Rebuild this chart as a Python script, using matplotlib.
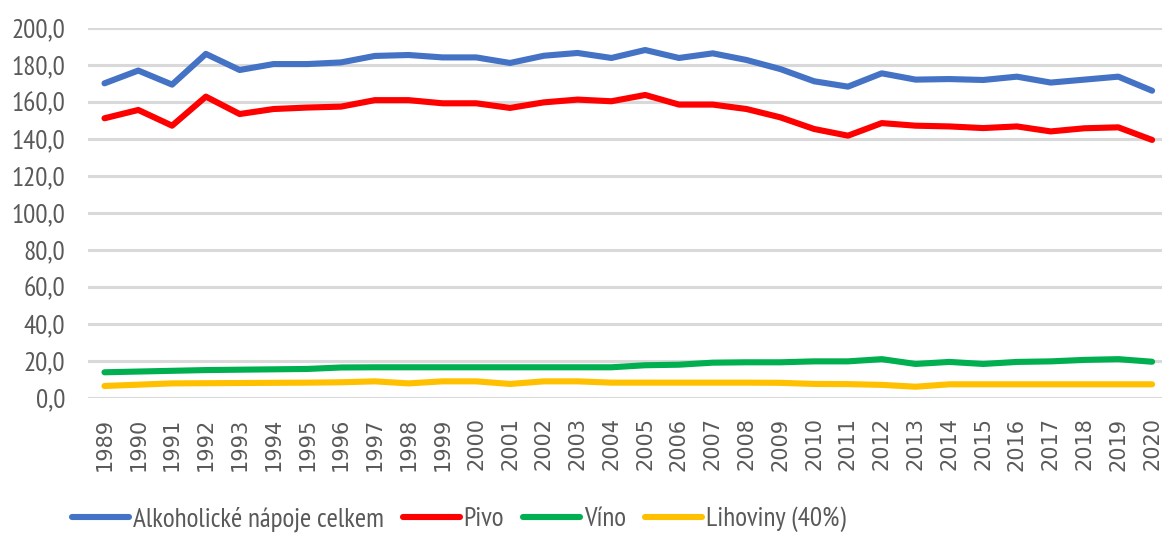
import matplotlib
matplotlib.use("Agg")
import matplotlib.pyplot as plt
from matplotlib import font_manager as fm
from matplotlib.ticker import FuncFormatter

years = [str(y) for y in range(1989, 2021)]

celkem = [170.1, 177.0, 169.4, 186.0, 177.3, 180.5, 180.5, 181.4, 184.9, 185.4,
          184.1, 184.1, 181.1, 185.0, 186.5, 183.8, 188.1, 183.8, 186.3, 182.7,
          177.8, 171.2, 168.3, 175.5, 172.1, 172.4, 171.9, 173.7, 170.5, 172.1,
          173.7, 166.1]
pivo = [151.2, 155.7, 147.2, 162.9, 153.5, 156.2, 157.0, 157.5, 161.0, 161.0,
        159.3, 159.3, 156.8, 159.8, 161.3, 160.4, 163.8, 158.6, 158.6, 156.2,
        151.7, 145.4, 141.8, 148.6, 147.2, 146.8, 145.9, 146.8, 144.1, 145.8,
        146.3, 139.5]
vino = [13.9, 14.3, 14.7, 15.1, 15.3, 15.5, 15.7, 16.5, 16.6, 16.6,
        16.6, 16.6, 16.6, 16.6, 16.6, 16.6, 17.7, 18.0, 19.1, 19.3,
        19.3, 19.8, 19.8, 21.0, 18.4, 19.5, 18.4, 19.5, 19.8, 20.6,
        21.0, 19.6]
lihoviny = [6.5, 7.2, 7.9, 8.0, 8.1, 8.2, 8.3, 8.5, 9.0, 7.9,
            9.0, 9.0, 7.6, 9.0, 9.0, 8.3, 8.3, 8.3, 8.3, 8.3,
            8.2, 7.6, 7.5, 7.1, 6.1, 7.4, 7.4, 7.4, 7.4, 7.4,
            7.4, 7.4]

series_names = ["Alkoholické nápoje celkem", "Pivo", "Víno", "Lihoviny (40%)"]
series_colors = ["#4472C4", "#FF0000", "#00B050", "#FFC000"]
y_ticks = [0, 20, 40, 60, 80, 100, 120, 140, 160, 180, 200]

# pick a narrow font if one is installed
installed = {f.name for f in fm.fontManager.ttflist}
narrow = None
stretch = "normal"
for cand in ["PT Sans Narrow", "Arial Narrow", "Liberation Sans Narrow", "Archivo Narrow",
             "Roboto Condensed", "Fira Sans Condensed", "IBM Plex Sans Condensed",
             "Open Sans Condensed", "Asap Condensed", "Barlow Semi Condensed"]:
    if cand in installed:
        narrow = cand
        break
if narrow is None:
    narrow = "Open Sans"
    stretch = "condensed"
NARROW = [narrow, "DejaVu Sans"]

W, H = 1162, 533
fig = plt.figure(figsize=(W / 100, H / 100), dpi=100)
left = 87.6 / W
right = 1169.0 / W
bottom = (H - 398) / H
top = (H - 28) / H
ax = fig.add_axes([left, bottom, right - left, top - bottom])

x = list(range(len(years)))
for vals, name, col in zip([celkem, pivo, vino, lihoviny], series_names, series_colors):
    ax.plot(x, vals, color=col, lw=4.4, label=name,
            solid_capstyle="round", solid_joinstyle="round", zorder=3)

ax.set_xlim(-0.5, len(years) - 0.5)
ax.set_ylim(0, 200)
ax.set_yticks(y_ticks)
ax.yaxis.set_major_formatter(FuncFormatter(lambda v, p: f"{v:.1f}".replace(".", ",")))
ax.set_xticks(x)
ax.set_xticklabels(years, rotation=90, fontsize=15, color="#595959",
                   family=["DejaVu Sans"])
for lab in ax.get_yticklabels():
    lab.set_fontsize(19.5)
    lab.set_color("#595959")
    lab.set_family(NARROW)
    lab.set_fontstretch(stretch)

ax.tick_params(axis="both", length=0)
ax.tick_params(axis="y", pad=16)
ax.tick_params(axis="x", pad=14)
ax.grid(axis="y", color="#D9D9D9", lw=2.2, zorder=0)
ax.set_axisbelow(True)
for s in ax.spines.values():
    s.set_visible(False)

leg = fig.legend(loc="center left", bbox_to_anchor=(72 / W, (H - 519) / H),
                 ncol=4, frameon=False, borderpad=0, borderaxespad=0,
                 handlelength=2.1, handletextpad=0.15, columnspacing=0.7,
                 prop={"family": NARROW, "size": 19.5, "stretch": stretch})
for t in leg.get_texts():
    t.set_color("#595959")
for h in leg.get_lines():
    h.set_linewidth(4.4)

fig.savefig("out.png", dpi=100)
